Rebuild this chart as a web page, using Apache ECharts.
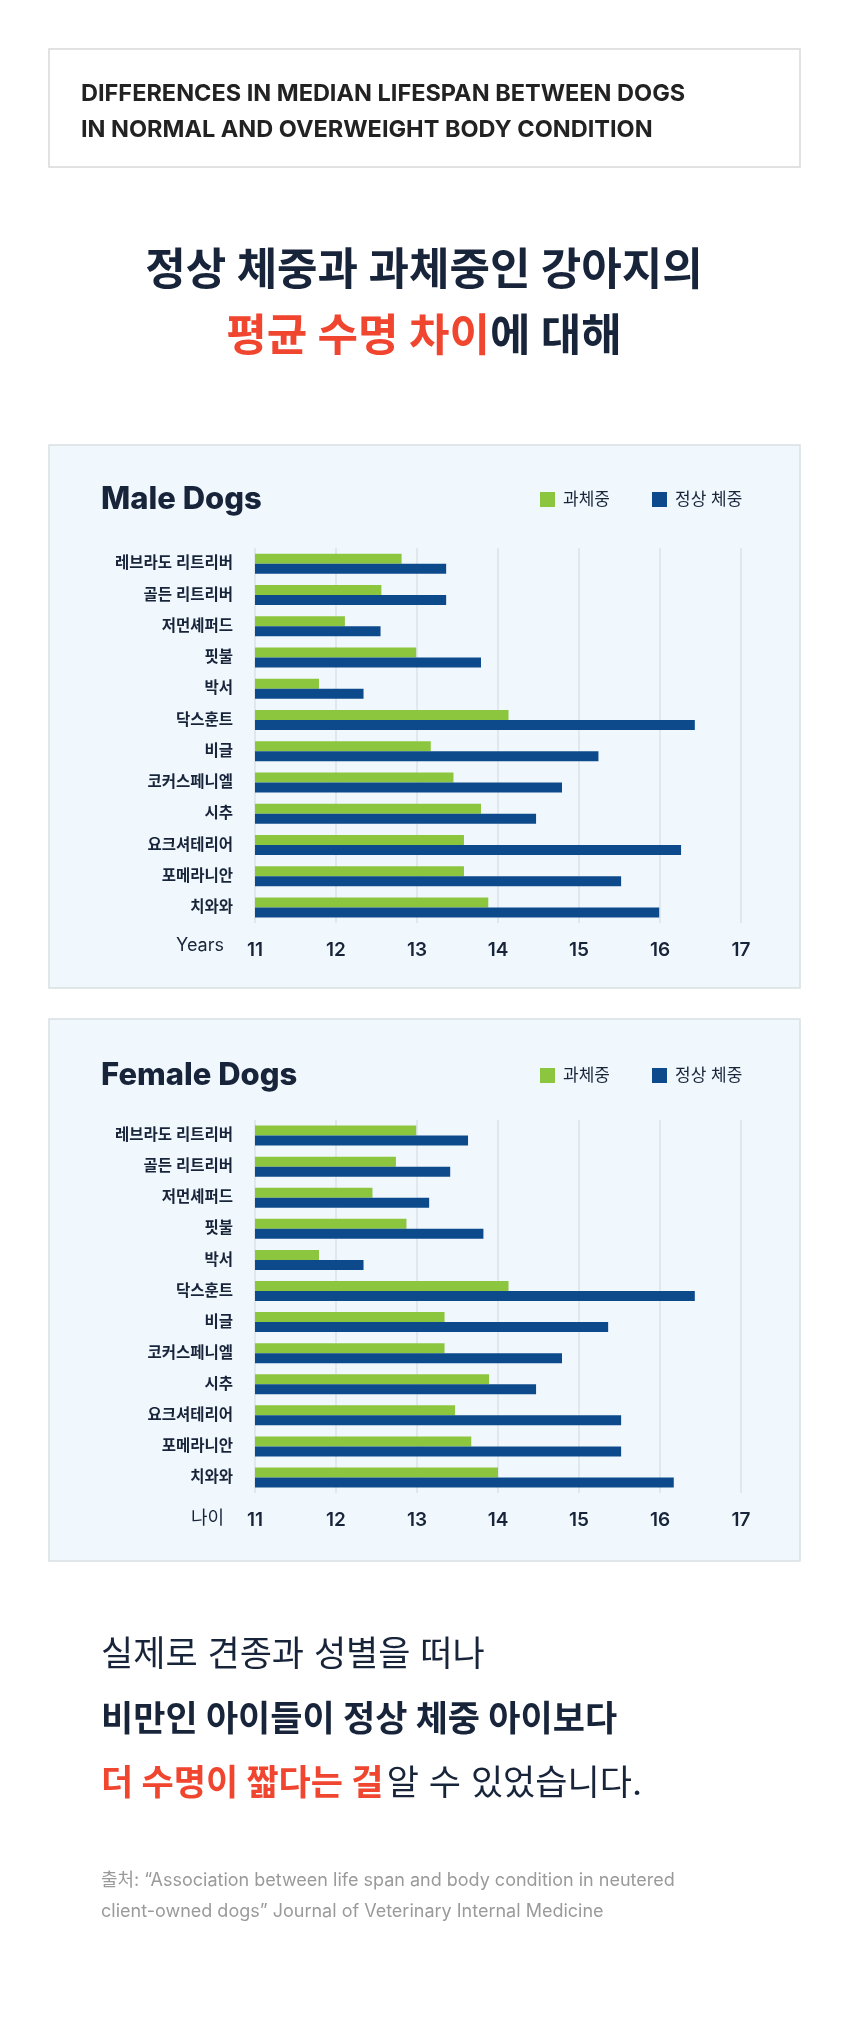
<!DOCTYPE html>
<html>
<head>
<meta charset="utf-8">
<script src="https://cdn.jsdelivr.net/npm/echarts@6/dist/echarts.min.js"></script>
<style>
  html, body { margin: 0; padding: 0; background: #fff; }
  #main { width: 848px; height: 2021px; }
</style>
</head>
<body>
<div id="main"></div>
<script>
// 견종
const breeds = ['레브라도 리트리버', '골든 리트리버', '저먼셰퍼드', '핏불', '박서', '닥스훈트',
  '비글', '코커스페니엘', '시추', '요크셔테리어', '포메라니안', '치와와']
const ticks = [11, 12, 13, 14, 15, 16, 17]

// 수컷 (years)
const maleOver = [12.81, 12.56, 12.11, 12.99, 11.79, 14.13, 13.17, 13.45, 13.79, 13.58, 13.58, 13.88]
const maleNormal = [13.36, 13.36, 12.55, 13.79, 12.34, 16.43, 15.24, 14.79, 14.47, 16.26, 15.52, 15.99]

// 암컷 (years)
const femaleOver = [12.99, 12.74, 12.45, 12.87, 11.79, 14.13, 13.34, 13.34, 13.89, 13.47, 13.67, 14.0]
const femaleNormal = [13.63, 13.41, 13.15, 13.82, 12.34, 16.43, 15.36, 14.79, 14.47, 15.52, 15.52, 16.17]

const GREEN = '#8cc63f'
const BLUE = '#0d4a8b'
const NAVY = '#17243a'
const RED = '#f0452f'
const FONT = 'Inter, "Noto Sans CJK KR", sans-serif'

const chart = echarts.init(document.getElementById('main'))

function xAxisOf(idx) {
  return {
    gridIndex: idx, type: 'value', min: ticks[0], max: ticks[ticks.length - 1], interval: 1,
    axisLine: { show: false }, axisTick: { show: false },
    axisLabel: { color: NAVY, fontSize: 19, fontWeight: 600, fontFamily: FONT, margin: 18 },
    splitLine: { lineStyle: { color: '#dbe2ea', width: 1.5 } }
  }
}
function yAxisOf(idx) {
  return {
    gridIndex: idx, type: 'category', data: breeds, inverse: true,
    axisLine: { show: false }, axisTick: { show: false },
    axisLabel: { color: NAVY, fontSize: 15.5, fontWeight: 600, fontFamily: FONT, margin: 22 }
  }
}
function barsOf(idx, over, normal) {
  return [
    { type: 'bar', name: '과체중', xAxisIndex: idx, yAxisIndex: idx, data: over,
      barWidth: 10, barGap: '0%', itemStyle: { color: GREEN }, silent: true },
    { type: 'bar', name: '정상 체중', xAxisIndex: idx, yAxisIndex: idx, data: normal,
      barWidth: 10, barGap: '0%', itemStyle: { color: BLUE }, silent: true }
  ]
}

function box(top, h, title, unit, titleY, tickY) {
  return [
    { type: 'rect', shape: { x: 49, y: top, width: 751, height: h },
      style: { fill: '#f1f8fd', stroke: '#d9dfe4', lineWidth: 1.5 }, z: -10 },
    { type: 'text', x: 101, y: titleY, style: { text: title, fill: NAVY, font: '800 31px ' + FONT, textVerticalAlign: 'middle' } },
    { type: 'rect', shape: { x: 540, y: titleY - 8, width: 15, height: 15 }, style: { fill: GREEN } },
    { type: 'text', x: 563, y: titleY, style: { text: '과체중', fill: NAVY, font: '400 17px ' + FONT, textVerticalAlign: 'middle' } },
    { type: 'rect', shape: { x: 652, y: titleY - 8, width: 15, height: 15 }, style: { fill: BLUE } },
    { type: 'text', x: 675, y: titleY, style: { text: '정상 체중', fill: NAVY, font: '400 17px ' + FONT, textVerticalAlign: 'middle' } },
    { type: 'text', x: 224, y: tickY, style: { text: unit, fill: NAVY, font: '400 18px ' + FONT, textAlign: 'right', textVerticalAlign: 'middle' } }
  ]
}

const option = {
  animation: false,
  grid: [
    { left: 255, right: 107, top: 548, height: 375 },
    { left: 255, right: 107, top: 1120, height: 373 }
  ],
  xAxis: [xAxisOf(0), xAxisOf(1)],
  yAxis: [yAxisOf(0), yAxisOf(1)],
  series: [].concat(barsOf(0, maleOver, maleNormal), barsOf(1, femaleOver, femaleNormal)),
  graphic: [
    { type: 'rect', shape: { x: 49, y: 49, width: 751, height: 118 },
      style: { fill: '#fff', stroke: '#d9d9d9', lineWidth: 1.5 } },
    { type: 'text', x: 81, y: 94, style: { text: 'DIFFERENCES IN MEDIAN LIFESPAN BETWEEN DOGS', fill: '#222', font: '700 23.5px ' + FONT, textVerticalAlign: 'middle' } },
    { type: 'text', x: 81, y: 130, style: { text: 'IN NORMAL AND OVERWEIGHT BODY CONDITION', fill: '#222', font: '700 23.5px ' + FONT, textVerticalAlign: 'middle' } },
    { type: 'text', x: 424, y: 272, style: { text: '정상 체중과 과체중인 강아지의', fill: NAVY, font: '700 44px ' + FONT, textAlign: 'center', textVerticalAlign: 'middle' } },
    { type: 'text', x: 424, y: 338, style: {
      text: '{r|평균 수명 차이}{n|에 대해}', textAlign: 'center', textVerticalAlign: 'middle',
      rich: { r: { fill: RED, font: '700 44px ' + FONT }, n: { fill: NAVY, font: '700 44px ' + FONT } } } }
  ].concat(
    box(445, 543, 'Male Dogs', 'Years', 500, 946),
    box(1019, 542, 'Female Dogs', '나이', 1076, 1519),
    [
      { type: 'text', x: 101, y: 1655, style: { text: '실제로 견종과 성별을 떠나', fill: NAVY, font: '400 35px ' + FONT, textVerticalAlign: 'middle' } },
      { type: 'text', x: 101, y: 1720, style: { text: '비만인 아이들이 정상 체중 아이보다', fill: NAVY, font: '700 35px ' + FONT, textVerticalAlign: 'middle' } },
      { type: 'text', x: 101, y: 1784, style: {
        text: '{r|더 수명이 짧다는 걸} {n|알 수 있었습니다.}', textVerticalAlign: 'middle',
        rich: { r: { fill: RED, font: '700 35px ' + FONT }, n: { fill: NAVY, font: '400 35px ' + FONT } } } },
      { type: 'text', x: 101, y: 1881, style: { text: '출처: “Association between life span and body condition in neutered', fill: '#9a9a9a', font: '400 18px ' + FONT, textVerticalAlign: 'middle' } },
      { type: 'text', x: 101, y: 1912, style: { text: 'client-owned dogs” Journal of Veterinary Internal Medicine', fill: '#9a9a9a', font: '400 18px ' + FONT, textVerticalAlign: 'middle' } }
    ]
  )
}
chart.setOption(option)
window.addEventListener('resize', () => chart.resize())
</script>
</body>
</html>
